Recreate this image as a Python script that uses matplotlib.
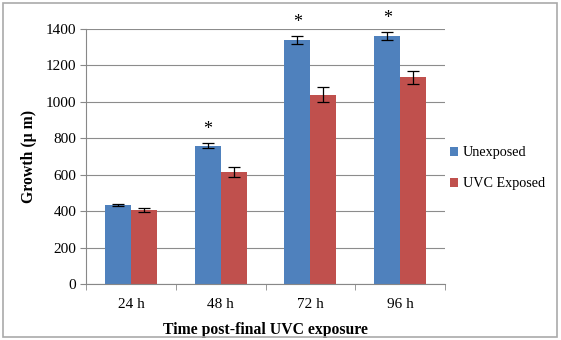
import matplotlib.pyplot as plt
import numpy as np
from matplotlib.patches import Rectangle

plt.rcParams['font.family'] = ['Liberation Serif', 'DejaVu Serif']

categories = ['24 h', '48 h', '72 h', '96 h']
unexposed = [432, 760, 1340, 1362]
unexposed_err = [5, 12, 20, 20]
uvc = [406, 617, 1040, 1135]
uvc_err = [12, 27, 39, 35]
significant = [False, True, True, True]

fig = plt.figure(figsize=(5.61, 3.40), dpi=100)
ax = fig.add_axes([0.1533, 0.1647, 0.64, 0.75])

x = np.arange(len(categories))
w = 0.29
ax.bar(x - w / 2, unexposed, w, color='#4F81BD', label='Unexposed', zorder=2)
ax.bar(x + w / 2, uvc, w, color='#C0504D', label='UVC Exposed', zorder=2)
ax.errorbar(x - w / 2, unexposed, yerr=unexposed_err, fmt='none', ecolor='black',
            elinewidth=0.9, capsize=4, capthick=0.9, zorder=3)
ax.errorbar(x + w / 2, uvc, yerr=uvc_err, fmt='none', ecolor='black',
            elinewidth=0.9, capsize=4, capthick=0.9, zorder=3)

# asterisks over significant groups
for i, s in enumerate(significant):
    if s:
        ax.text(x[i] - w / 2, unexposed[i] + unexposed_err[i] + 30, '*',
                ha='center', va='bottom', fontsize=13)

ax.set_xlim(-0.5, len(categories) - 0.5)
ax.set_ylim(0, 1400)
ax.set_yticks(np.arange(0, 1401, 200))
ax.set_xticks(x)
ax.set_xticklabels(categories)
ax.set_xticks(np.arange(-0.5, len(categories)), minor=True)
ax.tick_params(axis='x', which='major', length=0, pad=10, labelsize=11)
ax.tick_params(axis='x', which='minor', length=4, color='#888888')
ax.tick_params(axis='y', length=4, color='#888888', labelsize=11, pad=3)

ax.yaxis.grid(True, color='#8c8c8c', linewidth=0.8, zorder=0)
ax.set_axisbelow(True)
for side in ['top', 'right']:
    ax.spines[side].set_visible(False)
for side in ['left', 'bottom']:
    ax.spines[side].set_color('#888888')

ax.set_ylabel('Growth (\u03bc m)', fontweight='bold', fontsize=11.3, labelpad=6)
ax.set_xlabel('Time post-final UVC exposure', fontweight='bold', fontsize=11.3, labelpad=8)

fig.legend(loc='center left', bbox_to_anchor=(0.802, 0.505), frameon=False,
           borderpad=0, borderaxespad=0,
           fontsize=10.2, handlelength=0.6, handleheight=0.6, handletextpad=0.3,
           labelspacing=1.25)

fig.patches.append(Rectangle((0.006, 0.009), 0.986, 0.982, transform=fig.transFigure,
                             fill=False, edgecolor='#aaaaaa', linewidth=1.2))

fig.savefig('out.png', dpi=100)
